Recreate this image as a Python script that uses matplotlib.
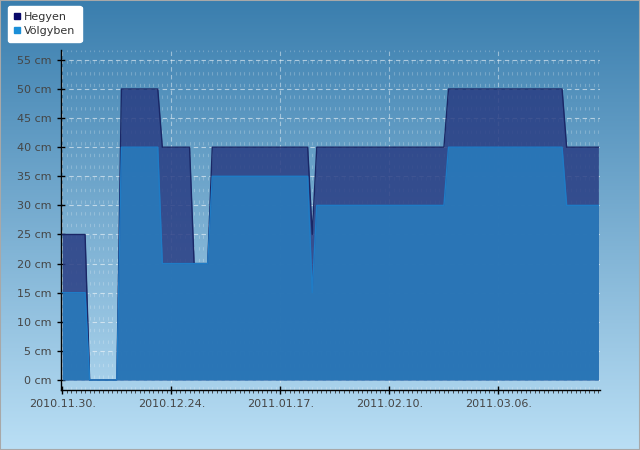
import matplotlib
matplotlib.use('Agg')
import matplotlib.pyplot as plt
import matplotlib.dates as mdates
import numpy as np
import pandas as pd
from matplotlib.patches import Rectangle
from matplotlib.lines import Line2D

# daily snow depth (cm), 2010.11.30. - 2011.03.28.
start = '2010-11-30'
hegyen = [
    25, 25, 25, 25, 25, 25,
    0, 0, 0, 0, 0, 0, 0,
    50, 50, 50, 50, 50, 50, 50, 50, 50,
    40, 40, 40, 40, 40, 40, 40,
    20, 20, 20, 20,
    40, 40, 40, 40, 40, 40, 40, 40, 40, 40, 40,
    40, 40, 40, 40, 40, 40, 40, 40, 40, 40, 40,
    25,
    40, 40, 40, 40, 40, 40, 40, 40, 40, 40,
    40, 40, 40, 40, 40, 40, 40, 40, 40, 40,
    40, 40, 40, 40, 40, 40, 40, 40, 40,
    50, 50, 50, 50, 50, 50, 50, 50, 50, 50, 50, 50, 50,
    50, 50, 50, 50, 50, 50, 50, 50, 50, 50, 50, 50, 50,
    40, 40, 40, 40, 40, 40, 40, 40,
]
volgyben = [
    15, 15, 15, 15, 15, 15,
    0, 0, 0, 0, 0, 0, 0,
    40, 40, 40, 40, 40, 40, 40, 40, 40,
    20, 20, 20, 20, 20, 20, 20,
    20, 20, 20, 20,
    35, 35, 35, 35, 35, 35, 35, 35, 35, 35, 35,
    35, 35, 35, 35, 35, 35, 35, 35, 35, 35, 35,
    15,
    30, 30, 30, 30, 30, 30, 30, 30, 30, 30,
    30, 30, 30, 30, 30, 30, 30, 30, 30, 30,
    30, 30, 30, 30, 30, 30, 30, 30, 30,
    40, 40, 40, 40, 40, 40, 40, 40, 40, 40, 40, 40, 40,
    40, 40, 40, 40, 40, 40, 40, 40, 40, 40, 40, 40, 40,
    30, 30, 30, 30, 30, 30, 30, 30,
]
tick_dates = ['2010-11-30', '2010-12-24', '2011-01-17', '2011-02-10', '2011-03-06']
y_ticks = list(range(0, 60, 5))
series_names = ['Hegyen', 'Völgyben']

dates = pd.date_range(start, periods=len(hegyen))
x = mdates.date2num(dates.to_pydatetime())

fig = plt.figure(figsize=(6.4, 4.5), dpi=100)

# gradient background over the whole figure
bg = fig.add_axes([0, 0, 1, 1], zorder=-10)
top = np.array([58, 126, 174]) / 255
bottom = np.array([186, 223, 245]) / 255
t = np.linspace(0, 1, 256)[:, None]
grad = top * (1 - t) + bottom * t
bg.imshow(grad[:, None, :], aspect='auto', extent=[0, 1, 0, 1])
bg.set_axis_off()
fig.patches.append(Rectangle((0, 0), 1, 1, transform=fig.transFigure,
                             fill=False, edgecolor='#a8a8a8', lw=1.5))

ax = fig.add_axes([61 / 640, 1 - 390 / 450, 539 / 640, 340 / 450])
ax.set_facecolor('none')

ax.fill_between(x, hegyen, 0, color='#293d83', alpha=0.85, lw=0, zorder=2)
ax.plot(x, hegyen, color='#1a2766', lw=1, zorder=3)
ax.fill_between(x, volgyben, 0, color='#297abb', alpha=0.9, lw=0, zorder=4)
ax.plot(x, volgyben, color='#1f7cc6', lw=1, zorder=5)

ax.set_xlim(x[0] - 0.3, x[-1] + 0.35)
ax.set_ylim(-1.72, 56.7)

major = mdates.date2num(pd.to_datetime(tick_dates).to_pydatetime())
ax.set_xticks(major)
ax.xaxis.set_major_formatter(mdates.DateFormatter('%Y.%m.%d.'))
ax.set_xticks(x, minor=True)
ax.set_yticks(y_ticks)
ax.set_yticklabels([f'{v} cm' for v in y_ticks])

ax.grid(axis='y', which='major', color='white', alpha=0.55, ls=(0, (4, 3)), lw=0.8, zorder=1)
ax.grid(axis='x', which='major', color='white', alpha=0.45, ls=(0, (4, 3)), lw=0.8, zorder=1)
ax.grid(axis='x', which='minor', color='white', alpha=0.22, ls=(0, (3, 7.5)), lw=0.8, zorder=1)

for s in ['top', 'right']:
    ax.spines[s].set_visible(False)
for s in ['left', 'bottom']:
    ax.spines[s].set_color('black')
    ax.spines[s].set_linewidth(1)

ax.tick_params(which='major', direction='inout', length=6, width=1,
               labelsize=8, labelcolor='#454545', color='black')
ax.tick_params(axis='x', which='minor', direction='out', length=2, width=0.6, color='#333333')
ax.tick_params(axis='y', which='minor', length=0)

handles = [
    Line2D([], [], marker='s', ls='none', color='#0a0a6a', markersize=5),
    Line2D([], [], marker='s', ls='none', color='#1b8fd8', markersize=5),
]
leg = fig.legend(handles, series_names, loc='upper left',
                 bbox_to_anchor=(8 / 640, 1 - 6 / 450), fontsize=8,
                 frameon=True, fancybox=True, framealpha=1, facecolor='white',
                 edgecolor='white', handlelength=0.6, handletextpad=0.3,
                 borderpad=0.55, labelspacing=0.35, borderaxespad=0)
for txt in leg.get_texts():
    txt.set_color('#333333')

fig.savefig('out.png', dpi=100)
